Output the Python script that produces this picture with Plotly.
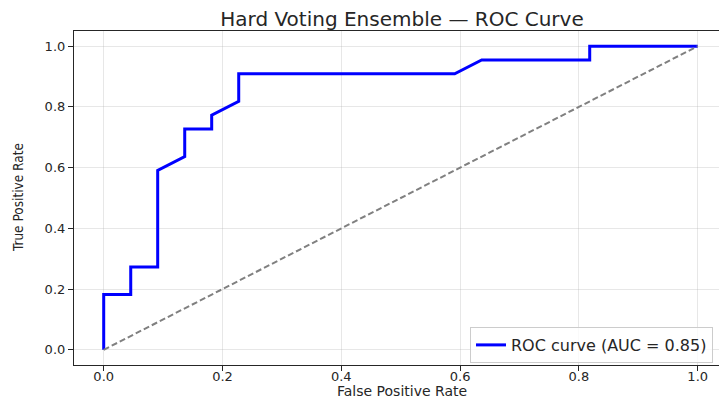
import numpy as np
import plotly.graph_objects as go

# ROC operating points of the hard-voting ensemble
fpr = [0.0, 0.0, 0.0455, 0.0455, 0.0909, 0.0909, 0.1364, 0.1364, 0.1818,
       0.1818, 0.2273, 0.2273, 0.5909, 0.6364, 0.8182, 0.8182, 1.0]
tpr = [0.0, 0.1818, 0.1818, 0.2727, 0.2727, 0.5909, 0.6364, 0.7273, 0.7273,
       0.7727, 0.8182, 0.9091, 0.9091, 0.9545, 0.9545, 1.0, 1.0]
chance = [0.0, 1.0]
tick_vals = [0.0, 0.2, 0.4, 0.6, 0.8, 1.0]
tick_text = ["0.0", "0.2", "0.4", "0.6", "0.8", "1.0"]

auc = float(np.trapezoid(tpr, fpr))

W, H = 719, 400
L, R, T, B = 74, 0, 31, 35
px_per_unit = 594.0
x_lo = -0.05
x_hi = x_lo + (W - L - R) / px_per_unit

font = "DejaVu Sans, Verdana, sans-serif"
ink = "#262626"
grid = "rgba(176,176,176,0.3)"

fig = go.Figure()
fig.add_trace(go.Scatter(
    x=fpr, y=tpr, mode="lines", name=f"ROC curve (AUC = {auc:.2f})",
    line=dict(color="#0000ff", width=3),
))
fig.add_trace(go.Scatter(
    x=chance, y=chance, mode="lines", showlegend=False,
    line=dict(color="#808080", width=2, dash="6px,3px"),
))

axis_common = dict(
    tickvals=tick_vals, ticktext=tick_text, ticks="outside", ticklen=5,
    tickwidth=1, tickcolor=ink, showgrid=True, gridcolor=grid, gridwidth=1,
    zeroline=False, showline=True, linecolor=ink, linewidth=1.2,
    tickfont=dict(family=font, size=13, color=ink),
)

fig.update_layout(
    width=W, height=H,
    margin=dict(l=L, r=R, t=T, b=B, pad=0),
    paper_bgcolor="white", plot_bgcolor="white",
    title=dict(
        text="Hard Voting Ensemble — ROC Curve",
        x=402 / W, xref="container", xanchor="center",
        y=1 - 18.5 / H, yref="container", yanchor="middle",
        font=dict(family=font, size=20, color=ink),
    ),
    xaxis=dict(range=[x_lo, x_hi], mirror=True, ticklabelstandoff=-6,
               **axis_common),
    yaxis=dict(range=[-0.05, 1.05], mirror=False, **axis_common),
    legend=dict(
        x=(713 - L) / (W - L - R), y=0.006, xanchor="right", yanchor="bottom",
        bgcolor="rgba(255,255,255,0.8)", bordercolor="#cccccc", borderwidth=1,
        font=dict(family=font, size=16, color=ink),
    ),
    annotations=[
        dict(text="False Positive Rate", xref="paper", yref="paper",
             x=(402 - L) / (W - L - R), y=(365 - 391) / (H - T - B),
             xanchor="center", yanchor="middle", showarrow=False,
             font=dict(family=font, size=14, color=ink)),
        dict(text="True Positive Rate", xref="paper", yref="paper",
             x=(18 - L) / (W - L - R), y=0.5, textangle=-90,
             xanchor="center", yanchor="middle", showarrow=False,
             font=dict(family="Liberation Sans Narrow, DejaVu Sans Condensed, sans-serif",
                       size=13.5, color=ink)),
    ],
)

fig.write_html("out.html")
